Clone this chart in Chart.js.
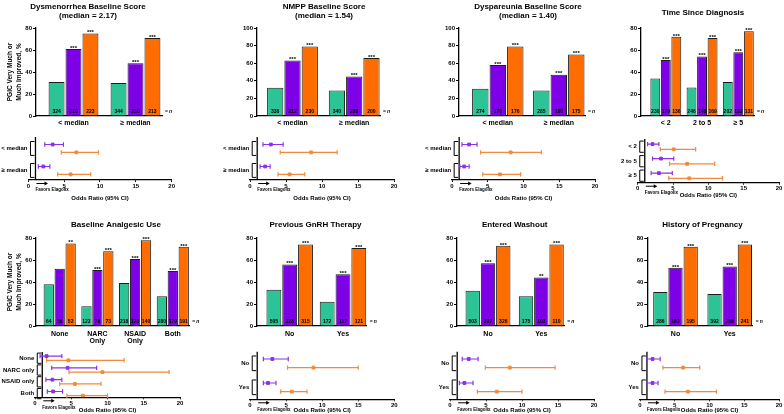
<!DOCTYPE html>
<html>
<head>
<meta charset="utf-8">
<title>PGIC by subgroup</title>
<script src="https://cdn.jsdelivr.net/npm/chart.js@4.4.1/dist/chart.umd.min.js"></script>
<style>
  html, body { margin: 0; padding: 0; background: #fff; }
  #wrap { position: relative; width: 784px; height: 414px; overflow: hidden; }
  canvas { position: absolute; }
</style>
</head>
<body>
<div id="wrap"></div>
<script>
// series: placebo (green), elagolix 150 mg QD (purple), elagolix 200 mg BID (orange)

// Dysmenorrhea baseline score
const dysCats = ['< median', '≥ median'];
const dysPlacebo = [31, 30], dysEla150 = [61, 48], dysEla200 = [75, 71];
const dysNPlacebo = [324, 344], dysN150 = [210, 230], dysN200 = [223, 213];
const dysStar150 = ['***', '***'], dysStar200 = ['***', '***'];
const dysOr150 = [3.4, 2.1], dysLo150 = [2.3, 1.4], dysHi150 = [4.9, 3.0];
const dysOr200 = [6.7, 5.9], dysLo200 = [4.6, 4.1], dysHi200 = [9.8, 8.7];

// NMPP baseline score
const nmppCats = ['< median', '≥ median'];
const nmppPlacebo = [32, 29], nmppEla150 = [63, 45], nmppEla200 = [79, 66];
const nmppNPlacebo = [338, 340], nmppN150 = [212, 228], nmppN200 = [230, 200];
const nmppStar150 = ['***', '***'], nmppStar200 = ['***', '***'];
const nmppOr150 = [2.9, 2.1], nmppLo150 = [1.8, 1.4], nmppHi150 = [4.6, 2.8];
const nmppOr200 = [8.5, 5.5], nmppLo200 = [4.2, 3.9], nmppHi200 = [12.1, 7.6];

// Dyspareunia baseline score
const dysparCats = ['< median', '≥ median'];
const dysparPlacebo = [31, 29], dysparEla150 = [58, 47], dysparEla200 = [79, 70];
const dysparNPlacebo = [274, 285], dysparN150 = [178, 180], dysparN200 = [176, 175];
const dysparStar150 = ['***', '***'], dysparStar200 = ['***', '***'];
const dysparOr150 = [2.4, 1.7], dysparLo150 = [1.4, 1.1], dysparHi150 = [3.5, 2.4];
const dysparOr200 = [8.2, 6.7], dysparLo200 = [4.0, 4.3], dysparHi200 = [12.5, 9.6];

// Time since diagnosis
const timeCats = ['< 2', '2 to 5', '≥ 5'];
const timePlacebo = [34, 26, 31], timeEla150 = [51, 54, 58], timeEla200 = [72, 71, 77];
const timeNPlacebo = [230, 246, 202], timeN150 = [179, 148, 133], timeN200 = [136, 169, 131];
const timeStar150 = ['***', '***', '***'], timeStar200 = ['***', '***', '***'];
const timeOr150 = [2.1, 3.3, 3.0], timeLo150 = [1.4, 2.1, 1.9], timeHi150 = [3.0, 5.1, 4.9];
const timeOr200 = [5.1, 7.0, 7.3], timeLo200 = [3.2, 4.5, 4.4], timeHi200 = [8.2, 10.9, 12.0];

// Baseline analgesic use
const anaCats = ['None', ['NARC', 'Only'], ['NSAID', 'Only'], 'Both'];
const anaRows = ['None', 'NARC only', 'NSAID only', 'Both'];
const anaPlacebo = [38, 18, 39, 27], anaEla150 = [52, 51, 61, 50], anaEla200 = [75, 68, 78, 72];
const anaNPlacebo = [64, 123, 218, 280], anaN150 = [56, 78, 128, 179], anaN200 = [52, 73, 140, 191];
const anaStar150 = ['', '***', '***', '***'], anaStar200 = ['**', '***', '***', '***'];
const anaOr150 = [1.6, 4.5, 2.4, 2.5], anaLo150 = [0.7, 2.3, 1.5, 1.7], anaHi150 = [3.7, 8.5, 3.7, 3.8];
const anaOr200 = [4.6, 9.3, 5.5, 6.6], anaLo200 = [1.6, 4.7, 3.4, 4.4], anaHi200 = [12.3, 18.5, 9.1, 10.0];

// Previous GnRH therapy
const gnrhCats = ['No', 'Yes'];
const gnrhPlacebo = [33, 22], gnrhEla150 = [56, 47], gnrhEla200 = [74, 71];
const gnrhNPlacebo = [505, 172], gnrhN150 = [323, 117], gnrhN200 = [315, 121];
const gnrhStar150 = ['***', '***'], gnrhStar200 = ['***', '***'];
const gnrhOr150 = [3.1, 2.5], gnrhLo150 = [1.85, 1.85], gnrhHi150 = [5.3, 3.6];
const gnrhOr200 = [8.8, 5.8], gnrhLo200 = [5.2, 4.25], gnrhHi200 = [15.0, 7.9];

// Entered washout
const washCats = ['No', 'Yes'];
const washPlacebo = [32, 27], washEla150 = [57, 44], washEla200 = [73, 74];
const washNPlacebo = [503, 175], washN150 = [337, 103], washN200 = [326, 110];
const washStar150 = ['***', '**'], washStar200 = ['***', '***'];
const washOr150 = [2.6, 2.0], washLo150 = [1.7, 1.3], washHi150 = [3.9, 3.2];
const washOr200 = [8.3, 6.5], washLo200 = [4.9, 3.8], washHi200 = [14.6, 10.0];

// History of pregnancy
const pregCats = ['No', 'Yes'];
const pregPlacebo = [31, 29], pregEla150 = [53, 54], pregEla200 = [72, 74];
const pregNPlacebo = [286, 392], pregN150 = [182, 258], pregN200 = [195, 241];
const pregStar150 = ['***', '***'], pregStar200 = ['***', '***'];
const pregOr150 = [1.8, 1.8], pregLo150 = [1.0, 1.0], pregHi150 = [2.9, 2.6];
const pregOr200 = [6.2, 6.9], pregLo200 = [3.3, 3.6], pregHi200 = [8.6, 11.0];

const FAM = '"Liberation Sans", Arial, Helvetica, sans-serif';
const GREEN = '#2cc497', PURPLE = '#7e00e6', ORANGE = '#ff6c00';
const CI_PURPLE = '#8b33e8', CI_ORANGE = '#f2893c';
const OFF = 0.18; // purple row sits above, orange below the row centre

Chart.defaults.font.family = FAM;
Chart.defaults.color = '#000';
Chart.defaults.animation = false;

// panel list: data + where each panel sits on the page
const panels = [
  { title: ['Dysmenorrhea Baseline Score', '(median = 2.17)'], cats: dysCats, rows: dysCats, yMax: 80,
    vals: [dysPlacebo, dysEla150, dysEla200], n: [dysNPlacebo, dysN150, dysN200], stars: [null, dysStar150, dysStar200],
    ci: [[dysOr150, dysLo150, dysHi150], [dysOr200, dysLo200, dysHi200]],
    g: { cx: 0, cy: 0, cw: 200, ch: 132, axisX: 36, c0: 73.5, unit: 62, right: 162, top: 28, bottom: 116, cp: 0.82, xh: 14, xpad: 3, tx: 88, ty: [7, 16], yTitle: true },
    f: { cx: 0, cy: 132, cw: 200, ch: 72, x0: 28.3, x20: 171.7, top: 135, bottom: 180, r0: 147, rs: 23, titleOff: 18 } },
  { title: ['NMPP Baseline Score', '(median = 1.54)'], cats: nmppCats, rows: nmppCats, yMax: 100,
    vals: [nmppPlacebo, nmppEla150, nmppEla200], n: [nmppNPlacebo, nmppN150, nmppN200], stars: [null, nmppStar150, nmppStar200],
    ci: [[nmppOr150, nmppLo150, nmppHi150], [nmppOr200, nmppLo200, nmppHi200]],
    g: { cx: 200, cy: 0, cw: 200, ch: 132, axisX: 257, c0: 292.5, unit: 61.7, right: 380, top: 28, bottom: 116, cp: 0.84, xh: 14, xpad: 3, tx: 324, ty: [7, 16] },
    f: { cx: 200, cy: 132, cw: 200, ch: 72, x0: 250, x20: 394, top: 135, bottom: 180, r0: 147, rs: 23, titleOff: 18 } },
  { title: ['Dyspareunia Baseline Score', '(median = 1.40)'], cats: dysparCats, rows: dysparCats, yMax: 100,
    vals: [dysparPlacebo, dysparEla150, dysparEla200], n: [dysparNPlacebo, dysparN150, dysparN200], stars: [null, dysparStar150, dysparStar200],
    ci: [[dysparOr150, dysparLo150, dysparHi150], [dysparOr200, dysparLo200, dysparHi200]],
    g: { cx: 400, cy: 0, cw: 200, ch: 132, axisX: 459, c0: 497.8, unit: 61, right: 585, top: 28, bottom: 116, cp: 0.86, xh: 14, xpad: 3, tx: 528, ty: [7, 16] },
    f: { cx: 400, cy: 132, cw: 200, ch: 72, x0: 452, x20: 596, top: 135, bottom: 180, r0: 147, rs: 23, titleOff: 18 } },
  { title: ['Time Since Diagnosis'], cats: timeCats, rows: timeCats, yMax: 80,
    vals: [timePlacebo, timeEla150, timeEla200], n: [timeNPlacebo, timeN150, timeN200], stars: [null, timeStar150, timeStar200],
    ci: [[timeOr150, timeLo150, timeHi150], [timeOr200, timeLo200, timeHi200]],
    g: { cx: 596, cy: 0, cw: 188, ch: 132, axisX: 641, c0: 665.8, unit: 36.25, right: 754, top: 28, bottom: 116, cp: 0.87, xh: 14, xpad: 3, tx: 703, ty: [13] },
    f: { cx: 596, cy: 132, cw: 188, ch: 72, x0: 637.7, x20: 780, top: 139, bottom: 182.7, r0: 146.7, rs: 14.5, titleOff: 12.3 } },
  { title: ['Baseline Analgesic Use'], cats: anaCats, rows: anaRows, yMax: 80,
    vals: [anaPlacebo, anaEla150, anaEla200], n: [anaNPlacebo, anaN150, anaN200], stars: [null, anaStar150, anaStar200],
    ci: [[anaOr150, anaLo150, anaHi150], [anaOr200, anaLo200, anaHi200]],
    g: { cx: 0, cy: 210, cw: 200, ch: 140, axisX: 36, c0: 59.7, unit: 37.7, right: 189.3, top: 238, bottom: 326, cp: 0.87, xh: 20, xpad: 4, tx: 116, ty: [225], yTitle: true },
    f: { cx: 0, cy: 346, cw: 200, ch: 68, x0: 35, x20: 180, top: 352, bottom: 397.3, r0: 358.2, rs: 11.8, titleOff: 12.8 } },
  { title: ['Previous GnRH Therapy'], cats: gnrhCats, rows: gnrhCats, yMax: 80,
    vals: [gnrhPlacebo, gnrhEla150, gnrhEla200], n: [gnrhNPlacebo, gnrhN150, gnrhN200], stars: [null, gnrhStar150, gnrhStar200],
    ci: [[gnrhOr150, gnrhLo150, gnrhHi150], [gnrhOr200, gnrhLo200, gnrhHi200]],
    g: { cx: 200, cy: 210, cw: 200, ch: 140, axisX: 257, c0: 289.7, unit: 53.3, right: 366.7, top: 238, bottom: 326, cp: 0.89, xh: 20, xpad: 4, tx: 315.5, ty: [225] },
    f: { cx: 200, cy: 346, cw: 200, ch: 68, x0: 250, x20: 394.3, top: 351.7, bottom: 399.3, r0: 363.3, rs: 24, titleOff: 10.7 } },
  { title: ['Entered Washout'], cats: washCats, rows: washCats, yMax: 80,
    vals: [washPlacebo, washEla150, washEla200], n: [washNPlacebo, washN150, washN200], stars: [null, washStar150, washStar200],
    ci: [[washOr150, washLo150, washHi150], [washOr200, washLo200, washHi200]],
    g: { cx: 400, cy: 210, cw: 200, ch: 140, axisX: 457, c0: 488, unit: 53.3, right: 564.3, top: 238, bottom: 326, cp: 0.86, xh: 20, xpad: 4, tx: 514.7, ty: [225] },
    f: { cx: 400, cy: 346, cw: 200, ch: 68, x0: 450, x20: 594, top: 351.7, bottom: 399.3, r0: 363.3, rs: 24, titleOff: 10.7 } },
  { title: ['History of Pregnancy'], cats: pregCats, rows: pregCats, yMax: 80,
    vals: [pregPlacebo, pregEla150, pregEla200], n: [pregNPlacebo, pregN150, pregN200], stars: [null, pregStar150, pregStar200],
    ci: [[pregOr150, pregLo150, pregHi150], [pregOr200, pregLo200, pregHi200]],
    g: { cx: 596, cy: 210, cw: 188, ch: 140, axisX: 647.3, c0: 675.5, unit: 54.2, right: 752.7, top: 238, bottom: 326, cp: 0.84, xh: 20, xpad: 4, tx: 702.5, ty: [225] },
    f: { cx: 596, cy: 346, cw: 188, ch: 68, x0: 640, x20: 780, top: 351.7, bottom: 399.3, r0: 363.3, rs: 24, titleOff: 10.7 } }
];

const wrap = document.getElementById('wrap');
function addCanvas(x, y, w, h) {
  const c = document.createElement('canvas');
  c.width = w; c.height = h;
  c.style.left = x + 'px'; c.style.top = y + 'px';
  c.style.width = w + 'px'; c.style.height = h + 'px';
  wrap.appendChild(c);
  return c;
}

// n counts inside bars, significance stars, "= n", panel title
function barPlugin(p) {
  return {
    id: 'barText',
    afterDatasetsDraw(chart) {
      const { ctx, chartArea: a, scales: { y } } = chart;
      const y0 = y.getPixelForValue(0);
      ctx.save();
      ctx.fillStyle = '#000';
      ctx.textAlign = 'center';
      chart.data.datasets.forEach((ds, k) => {
        chart.getDatasetMeta(k).data.forEach((bar, i) => {
          ctx.font = 'bold 5px ' + FAM;
          ctx.textBaseline = 'middle';
          ctx.fillText(String(p.n[k][i]), bar.x, y0 - 4.5);
          const s = p.stars[k] && p.stars[k][i];
          if (s) {
            ctx.font = 'bold 6px ' + FAM;
            ctx.textBaseline = 'alphabetic';
            ctx.fillText(s, bar.x, bar.y + 0.8);
          }
        });
      });
      ctx.textAlign = 'left';
      ctx.textBaseline = 'middle';
      ctx.font = 'bold 5px ' + FAM;
      ctx.fillText('=', a.right + 3, y0 - 4.5);
      ctx.font = 'italic bold 5px ' + FAM;
      ctx.fillText('n', a.right + 7, y0 - 4.5);
      ctx.textAlign = 'center';
      ctx.font = 'bold 8px ' + FAM;
      p.title.forEach((t, j) => ctx.fillText(t, p.g.tx - p.g.cx, p.g.ty[j] - p.g.cy));
      ctx.restore();
    }
  };
}

function drawBars(p) {
  const g = p.g;
  const YW = g.yTitle ? 30.5 : 20;
  const canvas = addCanvas(g.cx, g.cy, g.cw, g.ch);
  const colors = [GREEN, PURPLE, ORANGE];
  new Chart(canvas, {
    type: 'bar',
    data: {
      datasets: p.vals.map((vals, k) => ({
        data: vals.map((v, i) => ({ x: i, y: v })),
        backgroundColor: colors[k],
        borderColor: '#1c1c1c',
        borderWidth: 1,
        categoryPercentage: g.cp,
        barPercentage: 0.94
      }))
    },
    options: {
      responsive: false,
      devicePixelRatio: 1,
      animation: false,
      layout: { padding: { left: g.axisX - g.cx - YW, right: g.cx + g.cw - g.right, top: g.top - g.cy, bottom: g.cy + g.ch - g.bottom - g.xh } },
      plugins: { legend: { display: false }, tooltip: { enabled: false } },
      scales: {
        x: {
          type: 'linear', bounds: 'data', offset: false,
          min: (g.axisX - g.c0) / g.unit, max: (g.right - g.c0) / g.unit,
          afterBuildTicks: s => { s.ticks = p.cats.map((c, i) => ({ value: i })); },
          afterFit: s => { s.height = g.xh; },
          ticks: { callback: (v, i) => p.cats[i], autoSkip: false, maxRotation: 0, padding: g.xpad,
                   font: { size: 7, weight: 'bold', lineHeight: 1.1 } },
          grid: { display: false, drawTicks: false, offset: false },
          border: { display: true, color: '#000', width: 1.3 }
        },
        y: {
          min: 0, max: p.yMax,
          afterFit: s => { s.width = YW; },
          ticks: { stepSize: 20, padding: 1, font: { size: 6, weight: 'bold' } },
          grid: { drawOnChartArea: false, tickLength: 3, color: '#000', lineWidth: 1 },
          border: { display: true, color: '#000', width: 1.3 },
          title: { display: !!g.yTitle, text: ['PGIC Very Much or', 'Much Improved, %'], padding: 0,
                   font: { size: 6.5, weight: 'bold', lineHeight: 1.4 } }
        }
      }
    },
    plugins: [barPlugin(p)]
  });
}

// reference line at OR = 1, brackets, row labels, CI whiskers, "Favors Elagolix" arrow
function forestPlugin(p) {
  return {
    id: 'forestMarks',
    beforeDatasetsDraw(chart) {
      const { ctx, chartArea: a, scales: { x, y } } = chart;
      const vx = x.getPixelForValue(1);
      ctx.save();
      ctx.strokeStyle = '#000';
      ctx.fillStyle = '#000';
      ctx.lineWidth = 1.3;
      ctx.beginPath(); ctx.moveTo(vx, a.top); ctx.lineTo(vx, a.bottom); ctx.stroke();

      ctx.lineWidth = 1;
      ctx.font = 'bold 6px ' + FAM;
      ctx.textAlign = 'right';
      ctx.textBaseline = 'middle';
      p.rows.forEach((lab, i) => {
        const yt = y.getPixelForValue(i - OFF) - 3, yb = y.getPixelForValue(i + OFF) + 3;
        const bx = vx - 5;
        ctx.beginPath();
        ctx.moveTo(vx - 1, yt); ctx.lineTo(bx, yt); ctx.lineTo(bx, yb); ctx.lineTo(vx - 1, yb);
        ctx.stroke();
        ctx.fillText(lab, bx - 3, y.getPixelForValue(i));
      });

      [[p.ci[0], -OFF, CI_PURPLE], [p.ci[1], OFF, CI_ORANGE]].forEach(([set, off, col]) => {
        const lo = set[1], hi = set[2];
        ctx.strokeStyle = col;
        ctx.lineWidth = 1.2;
        lo.forEach((l, i) => {
          const py = y.getPixelForValue(i + off);
          const x1 = x.getPixelForValue(l), x2 = x.getPixelForValue(hi[i]);
          ctx.beginPath();
          ctx.moveTo(x1, py); ctx.lineTo(x2, py);
          ctx.moveTo(x1, py - 2.2); ctx.lineTo(x1, py + 2.2);
          ctx.moveTo(x2, py - 2.2); ctx.lineTo(x2, py + 2.2);
          ctx.stroke();
        });
      });

      const ay = a.bottom + 3.5;
      ctx.strokeStyle = '#000';
      ctx.lineWidth = 1;
      ctx.beginPath(); ctx.moveTo(vx + 1, ay); ctx.lineTo(vx + 10, ay); ctx.stroke();
      ctx.beginPath(); ctx.moveTo(vx + 12.5, ay); ctx.lineTo(vx + 9, ay - 2); ctx.lineTo(vx + 9, ay + 2); ctx.closePath(); ctx.fill();
      ctx.font = 'bold 4.5px ' + FAM;
      ctx.textAlign = 'left';
      ctx.fillText('Favors Elagolix', vx, a.bottom + 10);
      ctx.restore();
    }
  };
}

function drawForest(p) {
  const f = p.f;
  const XH = f.titleOff + 3.6;
  const canvas = addCanvas(f.cx, f.cy, f.cw, f.ch);
  new Chart(canvas, {
    type: 'scatter',
    data: {
      datasets: [
        { data: p.ci[0][0].map((v, i) => ({ x: v, y: i - OFF })), backgroundColor: CI_PURPLE, borderColor: CI_PURPLE, pointStyle: 'rect', pointRadius: 2 },
        { data: p.ci[1][0].map((v, i) => ({ x: v, y: i + OFF })), backgroundColor: CI_ORANGE, borderColor: CI_ORANGE, pointStyle: 'rect', pointRadius: 2 }
      ]
    },
    options: {
      responsive: false,
      devicePixelRatio: 1,
      animation: false,
      layout: { padding: { left: f.x0 - f.cx, right: f.cx + f.cw - f.x20, top: f.top - f.cy, bottom: Math.max(0, f.cy + f.ch - f.bottom - XH) } },
      plugins: { legend: { display: false }, tooltip: { enabled: false } },
      scales: {
        x: {
          type: 'linear', min: 0, max: 20,
          afterFit: s => { s.height = XH; },
          ticks: { stepSize: 5, padding: 0.5, font: { size: 6, weight: 'bold' } },
          grid: { drawOnChartArea: false, tickLength: 2, color: '#000' },
          border: { display: true, color: '#000', width: 1.3 },
          title: { display: true, text: 'Odds Ratio (95% CI)', padding: 0, font: { size: 6, weight: 'bold' } }
        },
        y: {
          type: 'linear', display: false, reverse: true,
          min: (f.top - f.r0) / f.rs, max: (f.bottom - f.r0) / f.rs
        }
      }
    },
    plugins: [forestPlugin(p)]
  });
}

panels.forEach(p => { drawBars(p); drawForest(p); });
</script>
</body>
</html>
